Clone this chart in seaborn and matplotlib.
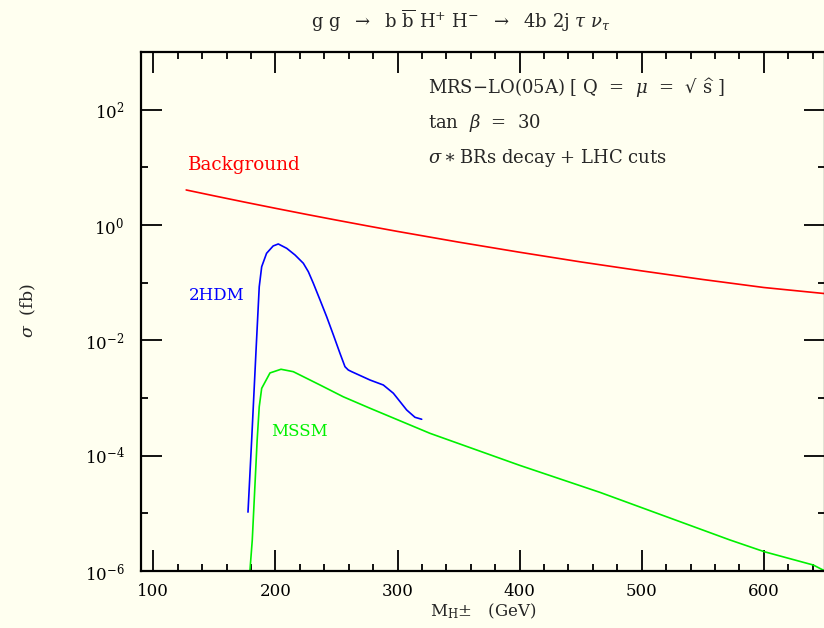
import matplotlib
matplotlib.use("Agg")
import matplotlib.pyplot as plt
import matplotlib.ticker as mticker
import seaborn as sns

# ---- data ----
bkg_m = [127, 150, 175, 200, 225, 250, 275, 300, 350, 400, 450, 500, 550, 600, 650]
bkg_s = [4.05, 3.20, 2.49, 1.95, 1.535, 1.216, 0.968, 0.774, 0.505, 0.337, 0.229, 0.160,
         0.1135, 0.0824, 0.0646]

hdm_m = [177.6, 180.6, 184.2, 186.8, 188.8, 192.8, 198.2, 202.4, 209.3, 216.1, 222.9, 227.0,
         231.1, 236.6, 242.0, 247.5, 252.9, 257.0, 259.7, 262.5, 277.5, 288.4, 296.6, 307.5,
         314.3, 319.8]
hdm_s = [1.05e-5, 1.87e-4, 6.8e-3, 0.085, 0.189, 0.323, 0.433, 0.469, 0.394, 0.302, 0.217,
         0.155, 0.0975, 0.050, 0.0257, 0.0124, 5.96e-3, 3.49e-3, 3.06e-3, 2.86e-3, 2.05e-3,
         1.68e-3, 1.21e-3, 6.2e-4, 4.63e-4, 4.28e-4]

mssm_m = [179.0, 181.1, 185.1, 186.8, 188.8, 195.6, 204.6, 214.7, 236.6, 255.6, 277.5,
          326.6, 400.0, 466.0, 572.2, 600.3, 640.4, 650.0]
mssm_s = [9.0e-7, 3.45e-6, 1.87e-4, 7.06e-4, 1.47e-3, 2.72e-3, 3.15e-3, 2.86e-3, 1.68e-3,
          1.05e-3, 6.64e-4, 2.44e-4, 6.8e-5, 2.3e-5, 3.45e-6, 2.16e-6, 1.27e-6, 1.0e-6]

ytick_vals = [1e-6, 1e-4, 1e-2, 1e0, 1e2]
ytick_labels = [r"$10^{-6}$", r"$10^{-4}$", r"$10^{-2}$", r"$10^{0}$", r"$10^{2}$"]
yminor_vals = [1e-5, 1e-3, 1e-1, 1e1, 1e3]

sns.set_style("ticks")
plt.rcParams["font.family"] = ["DejaVu Serif", "DejaVu Sans"]
plt.rcParams["mathtext.fontset"] = "dejavuserif"

BG = "#fffff0"
RED, BLUE, GREEN = "#ff0000", "#0000ff", "#00f000"
fig = plt.figure(figsize=(8.24, 6.28), dpi=100, facecolor=BG)
ax = fig.add_axes([141 / 824, 57 / 628, 684 / 824, 519 / 628])
ax.set_facecolor(BG)

sns.lineplot(x=bkg_m, y=bkg_s, ax=ax, color=RED, lw=1.2, sort=False, estimator=None)
sns.lineplot(x=hdm_m, y=hdm_s, ax=ax, color=BLUE, lw=1.2, sort=False, estimator=None)
sns.lineplot(x=mssm_m, y=mssm_s, ax=ax, color=GREEN, lw=1.2, sort=False, estimator=None)

ax.set_yscale("log")
ax.set_xlim(90, 650)
ax.set_ylim(1e-6, 1e3)

ax.xaxis.set_major_locator(mticker.MultipleLocator(100))
ax.xaxis.set_minor_locator(mticker.MultipleLocator(20))
ax.yaxis.set_major_locator(mticker.FixedLocator(ytick_vals))
ax.yaxis.set_major_formatter(mticker.FixedFormatter(ytick_labels))
ax.yaxis.set_minor_locator(mticker.FixedLocator(yminor_vals))
ax.yaxis.set_minor_formatter(mticker.NullFormatter())

ax.tick_params(which="both", direction="in", top=True, right=True, width=1.3, colors="black",
               labelsize=12)
ax.tick_params(which="major", length=15)
ax.tick_params(which="minor", length=5)
ax.tick_params(axis="x", which="major", pad=8.5)
ax.tick_params(axis="y", which="major", pad=12)
for s in ax.spines.values():
    s.set_linewidth(1.6)
    s.set_color("black")

ax.set_xlabel("")
ax.set_ylabel("")


def ptext(xp, yp, s, **kw):
    fig.text(xp / 824, 1 - yp / 628, s, **kw)


ptext(461, 21,
      r"g g  $\rightarrow$  b $\overline{\rm b}$ H$^{+}$ H$^{-}$  $\rightarrow$  4b 2j $\tau$ $\nu_\tau$",
      ha="center", va="center", fontsize=13)
ptext(483, 611, r"M$_{\rm H}$$\pm$   (GeV)", ha="center", va="center", fontsize=12)
ptext(28, 311, r"$\sigma$  (fb)", ha="center", va="center", rotation=90, fontsize=12.5)

ptext(428, 88, "MRS\u2212LO(05A) [ Q  =  $\\mu$  =  \u221a $\\widehat{\\rm s}$ ]",
      ha="left", va="center", fontsize=13)
ptext(428, 123, r"tan  $\beta$  =  30", ha="left", va="center", fontsize=13)
ptext(428, 158, r"$\sigma\ast$BRs decay + LHC cuts", ha="left", va="center", fontsize=13)

ptext(188, 165, "Background", ha="left", va="center", fontsize=13.2, color=RED)
ptext(189, 295, "2HDM", ha="left", va="center", fontsize=12, color=BLUE)
ptext(271, 432, "MSSM", ha="left", va="center", fontsize=12, color=GREEN)

fig.savefig("out.png", dpi=100, facecolor=BG)
